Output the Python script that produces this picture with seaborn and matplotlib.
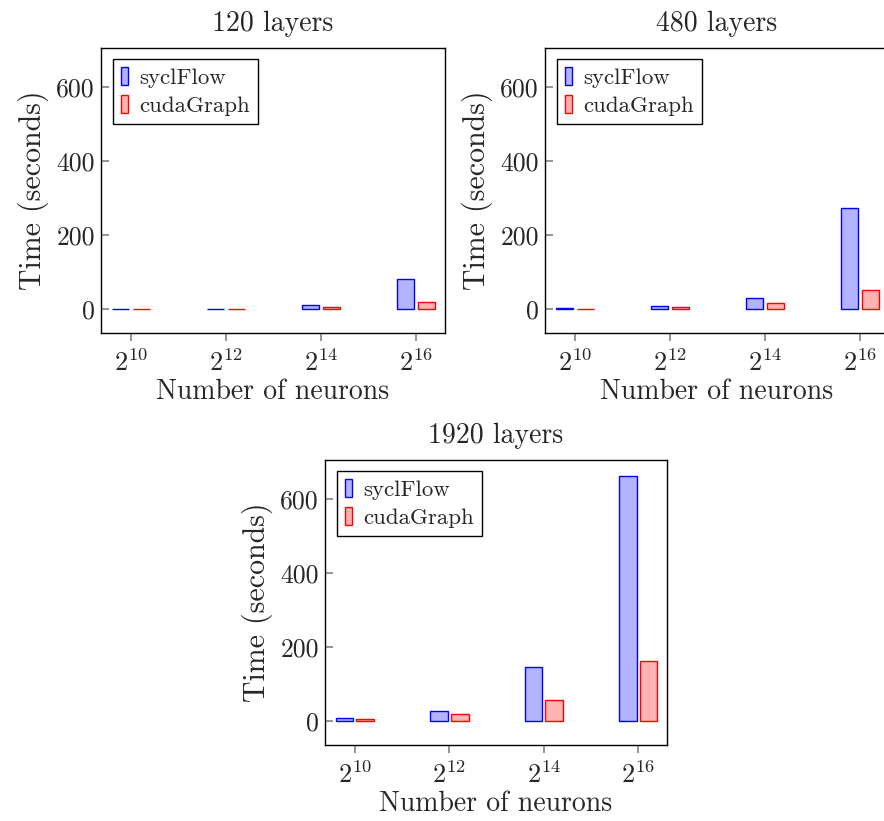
import matplotlib
matplotlib.use("Agg")
import matplotlib.pyplot as plt
import seaborn as sns
import pandas as pd

neurons = ["$2^{10}$", "$2^{12}$", "$2^{14}$", "$2^{16}$"]
series = ["syclFlow", "cudaGraph"]
titles = ["120 layers", "480 layers", "1920 layers"]
sycl_120 = [0.4, 1.0, 10, 80]
cuda_120 = [0.3, 0.6, 5, 18]
sycl_480 = [1.2, 7, 30, 272]
cuda_480 = [0.9, 4.5, 15, 52]
sycl_1920 = [8, 27, 147, 662]
cuda_1920 = [6, 20, 57, 162]
yticks = [0, 200, 400, 600]

sns.set_theme(style="ticks")
plt.rcParams["font.family"] = ["cmr10", "DejaVu Serif"]
plt.rcParams["mathtext.fontset"] = "cm"
plt.rcParams["axes.formatter.use_mathtext"] = True

fig = plt.figure(figsize=(8.84, 8.21), dpi=100)
W, H = 884, 821
def ax_at(l, t, r, b):
    return fig.add_axes([l / W, 1 - b / H, (r - l) / W, (b - t) / H])

axes = [ax_at(101, 48, 445, 333), ax_at(545, 48, 889, 333), ax_at(325, 460, 667, 745)]
data = [(sycl_120, cuda_120), (sycl_480, cuda_480), (sycl_1920, cuda_1920)]
palette = {"syclFlow": "#b3b3ff", "cudaGraph": "#ffb3b3"}
edges = {"syclFlow": "blue", "cudaGraph": "red"}

for i, (ax, (s, c), title) in enumerate(zip(axes, data, titles)):
    df = pd.DataFrame({
        "neurons": neurons * 2,
        "time": s + c,
        "impl": [series[0]] * 4 + [series[1]] * 4,
    })
    sns.barplot(data=df, x="neurons", y="time", hue="impl", order=neurons,
                hue_order=series, palette=palette, saturation=1, width=0.44, gap=0.15,
                ax=ax, legend=True)
    for cont, name in zip(ax.containers, series):
        for bar in cont:
            bar.set_edgecolor(edges[name])
            bar.set_linewidth(1.0)
    ax.set_xlim(-0.316, 3.305)
    ax.set_ylim(-65, 705)
    ax.set_yticks(yticks)
    ax.set_yticklabels([str(v) for v in yticks])
    ax.tick_params(axis="y", direction="in", length=6, color="#888888", labelsize=18.5, pad=4.5)
    ax.tick_params(axis="x", direction="out", length=6, color="#888888", labelsize=19, pad=6)
    for sp in ax.spines.values():
        sp.set_visible(True)
        sp.set_color("black")
        sp.set_linewidth(1.0)
    ax.set_xlabel("Number of neurons", fontsize=20, labelpad=2)
    ax.set_ylabel("Time (seconds)", fontsize=21.5, labelpad=5)
    ax.set_title(title, fontsize=20, pad=12)
    handles, labels = ax.get_legend_handles_labels()
    leg = ax.legend(handles, labels, loc="upper left", fontsize=16.5, frameon=True,
                    fancybox=False, edgecolor="black", framealpha=1,
                    handlelength=0.3, handleheight=0.85, handletextpad=0.5,
                    borderpad=0.35, labelspacing=0.3, borderaxespad=0,
                    bbox_to_anchor=(0.035, 0.961))
    leg.get_frame().set_linewidth(1.0)
    for h, name in zip(leg.legend_handles, series):
        h.set_edgecolor(edges[name])
        h.set_facecolor(palette[name])

fig.savefig("out.png", dpi=100)
